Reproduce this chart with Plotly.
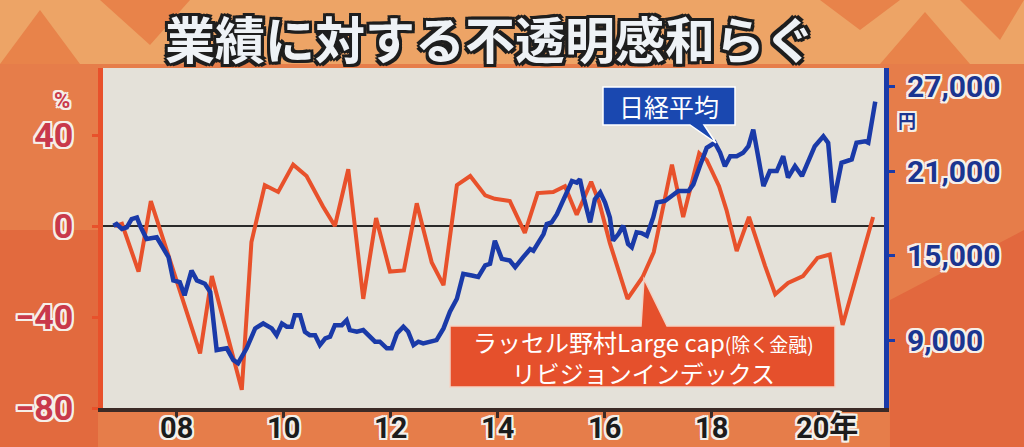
import plotly.graph_objects as go

W, H = 1024, 447
ML, MR, MT, MB = 103, 140, 68, 39

# ---- data ----
nikkei_t = [2006.83, 2006.89, 2006.99, 2007.08, 2007.17, 2007.27, 2007.33, 2007.45, 2007.64, 2007.76,
            2007.86, 2007.95, 2008.07, 2008.16, 2008.29, 2008.39, 2008.54, 2008.64, 2008.76, 2008.95,
            2009.07, 2009.16, 2009.32, 2009.48, 2009.63, 2009.79, 2009.88, 2009.98, 2010.07, 2010.16,
            2010.22, 2010.32, 2010.41, 2010.50, 2010.60, 2010.69, 2010.79, 2010.88, 2010.97, 2011.10,
            2011.19, 2011.25, 2011.38, 2011.50, 2011.59, 2011.72, 2011.81, 2011.94, 2012.03, 2012.13,
            2012.25, 2012.34, 2012.44, 2012.53, 2012.62, 2012.75, 2012.87, 2013.00, 2013.12, 2013.25,
            2013.37, 2013.53, 2013.65, 2013.78, 2013.87, 2013.96, 2014.09, 2014.24, 2014.34, 2014.49,
            2014.62, 2014.68, 2014.80, 2014.87, 2014.93, 2015.02, 2015.12, 2015.24, 2015.40, 2015.49,
            2015.55, 2015.63, 2015.74, 2015.83, 2015.93, 2016.02, 2016.11, 2016.17, 2016.27, 2016.36,
            2016.45, 2016.52, 2016.61, 2016.70, 2016.80, 2016.92, 2016.99, 2017.14, 2017.27, 2017.39,
            2017.58, 2017.67, 2017.79, 2017.92, 2018.07, 2018.17, 2018.26, 2018.36, 2018.48, 2018.60,
            2018.70, 2018.79, 2018.88, 2018.98, 2019.10, 2019.23, 2019.35, 2019.44, 2019.57, 2019.70,
            2019.82, 2019.94, 2020.10, 2020.19, 2020.29, 2020.44, 2020.63, 2020.72, 2020.88, 2020.94,
            2021.07]
nikkei_v = [17140, 17260, 16910, 17030, 17610, 17730, 17140, 16200, 16320, 15490,
            14910, 13260, 13140, 12200, 13960, 13260, 13020, 12440, 8315, 8435,
            7610, 7380, 8435, 9850, 10200, 9850, 9370, 10200, 9970, 9970,
            10790, 10790, 9610, 9370, 9370, 8670, 9140, 9260, 10080, 10080,
            10430, 9730, 9610, 9730, 9370, 8910, 8910, 8435, 8435, 9490,
            9970, 9610, 8670, 8910, 8790, 8910, 9020, 9850, 11030, 11960,
            13730, 13610, 13500, 14320, 14440, 16080, 14790, 14670, 14200, 14910,
            15490, 15370, 16080, 16550, 17260, 17380, 17960, 19020, 20320, 20200,
            20440, 19020, 17380, 19020, 19500, 18790, 17730, 16080, 16550, 17140,
            15850, 15610, 16670, 16620, 16430, 17730, 18790, 18900, 19260, 19610,
            19610, 20080, 21370, 22670, 23030, 22320, 21370, 22080, 22080, 22320,
            22790, 23970, 22080, 19960, 21020, 21020, 22080, 20560, 21370, 20670,
            21730, 22790, 23490, 23030, 18790, 21610, 21850, 23030, 23140, 23030,
            25960]

rev_t = [2006.86, 2006.99, 2007.30, 2007.53, 2008.45, 2008.67, 2009.23, 2009.41, 2009.66, 2009.91,
         2010.19, 2010.44, 2010.75, 2010.97, 2011.22, 2011.50, 2011.74, 2012.00, 2012.26, 2012.50,
         2012.78, 2013.00, 2013.25, 2013.50, 2013.78, 2013.96, 2014.24, 2014.52, 2014.76, 2015.05,
         2015.27, 2015.49, 2015.76, 2015.91, 2016.11, 2016.44, 2016.72, 2016.93, 2017.27, 2017.48,
         2017.78, 2017.92, 2018.15, 2018.29, 2018.48, 2018.71, 2019.01, 2019.20, 2019.44, 2019.72,
         2019.99, 2020.22, 2020.46, 2021.03]
rev_v = [0, 1, -20, 11, -56, -22, -72, -7, 18, 15,
         27, 22, 8.5, 0, 25, -32, 3.5, -20, -19.5, 10,
         -16, -26, 18, 22, 13.5, 12, 11, -3, 14.5, 15,
         17.5, 5, 19.5, 10.5, -7.5, -32, -22.5, -11.5, 27, 4,
         32, 29, 17.5, 7, -11, 4, -17.5, -30, -25, -22,
         -14, -12.5, -43.5, 4]

pct_ticks = [-80, -40, 0, 40]
pct_labels = ["−80", "−40", "0", "40"]
yen_ticks = [9000, 15000, 21000, 27000]
yen_labels = ["9,000", "15,000", "21,000", "27,000"]
year_ticks = [2008, 2010, 2012, 2014, 2016, 2018, 2020]
year_labels = ["08", "10", "12", "14", "16", "18", "20年"]

title_text = "業績に対する不透明感和らぐ"
nikkei_label = "日経平均"
rev_label = ("ラッセル野村Large cap<span style='font-size:19px'>(除く金融)</span>"
             "<br>リビジョンインデックス")

# ---- styling helpers ----
PW = W - ML - MR
PH = H - MT - MB


def px(x):
    return (x - ML) / PW


def py(y):
    return (H - MB - y) / PH


def outline(color, w):
    parts = []
    for dx in (-w, 0, w):
        for dy in (-w, 0, w):
            if dx or dy:
                parts.append(f"{dx}px {dy}px 0px {color}")
    return ", ".join(parts)


def path(points):
    s = "M " + " L ".join(f"{px(a):.5f},{py(b):.5f}" for a, b in points) + " Z"
    return s


RED = "#e8512b"
BLUE = "#1a3aa8"
NUM_FONT = "Roboto, Noto Sans CJK JP, sans-serif"
JP_FONT = "Noto Sans CJK JP, sans-serif"

fig = go.Figure()
fig.add_trace(go.Scatter(x=rev_t, y=rev_v, mode="lines", yaxis="y",
                         line=dict(color=RED, width=4), showlegend=False, hoverinfo="skip"))
fig.add_trace(go.Scatter(x=nikkei_t, y=nikkei_v, mode="lines", yaxis="y2",
                         line=dict(color=BLUE, width=4.5), showlegend=False, hoverinfo="skip"))

px_per_year = 53.5
x0 = 2008 - (176 - ML) / px_per_year
x1 = x0 + PW / px_per_year

fig.update_layout(
    width=W, height=H,
    autosize=False,
    margin=dict(l=ML, r=MR, t=MT, b=MB, pad=0, autoexpand=False),
    paper_bgcolor="#e67d4a",
    plot_bgcolor="#e4e1d9",
    showlegend=False,
    xaxis=dict(range=[x0, x1], tickvals=year_ticks, ticktext=year_labels, automargin=False,
               showticklabels=False,
               showgrid=False, zeroline=False, showline=True, linecolor="#3b2a26", linewidth=4,
               ticks="outside", ticklen=6, tickwidth=3, tickcolor="#3b2a26"),
    yaxis=dict(range=[-80, 69.5], tickvals=pct_ticks, ticktext=pct_labels, automargin=False,
               showgrid=False, zeroline=True, zerolinecolor="#2a2a2a", zerolinewidth=1.5,
               showline=True, linecolor=RED, linewidth=5,
               ticks="outside", ticklen=6, tickwidth=3, tickcolor=RED,
               ticklabelstandoff=12,
               tickfont=dict(family=NUM_FONT, size=34, color="#c9394a", weight="bold",
                             shadow=outline("#f6efe8", 2))),
    yaxis2=dict(range=[4200, 28340], tickvals=yen_ticks, ticktext=yen_labels, automargin=False,
                overlaying="y", side="right",
                showgrid=False, zeroline=False, showline=True, linecolor=BLUE, linewidth=5,
                ticks="outside", ticklen=6, tickwidth=3, tickcolor=BLUE,
                ticklabelstandoff=6,
                tickfont=dict(family=NUM_FONT, size=30, color="#1b3590", weight="bold",
                              shadow=outline("#f6efe8", 2))),
)

shapes = []
# top title band and decorative triangles
shapes.append(dict(type="rect", xref="paper", yref="paper", x0=px(0), x1=px(W), y0=py(64), y1=py(0),
                   fillcolor="#eda466", line=dict(width=0), layer="below"))
tri_color = "#e8834a"
for pts in ([(0, 64), (40, 10), (80, 64)], [(100, 0), (150, 45), (190, 0)], [(880, 64), (925, 12), (970, 64)],
            [(960, 0), (1000, 40), (1024, 0)], [(190, 64), (230, 30), (270, 64)], [(820, 0), (860, 30), (900, 0)]):
    shapes.append(dict(type="path", xref="paper", yref="paper", path=path(pts),
                       fillcolor=tri_color, line=dict(width=0), layer="below"))
# warmer patches in the margins
shapes.append(dict(type="path", xref="paper", yref="paper",
                   path=path([(0, 230), (98, 230), (98, 447), (0, 447)]),
                   fillcolor="#e26a3e", line=dict(width=0), layer="below"))
shapes.append(dict(type="path", xref="paper", yref="paper",
                   path=path([(890, 300), (1024, 230), (1024, 447), (890, 447)]),
                   fillcolor="#e2683e", line=dict(width=0), layer="below"))
# callouts
shapes.append(dict(type="path", xref="paper", yref="paper",
                   path=path([(450, 326), (641, 326), (644, 279), (667, 326), (835, 326), (835, 387), (450, 387)]),
                   fillcolor="#e5502c", line=dict(color="#f3d2c4", width=1.5), layer="above"))
shapes.append(dict(type="path", xref="paper", yref="paper",
                   path=path([(603, 87), (735, 87), (735, 125), (704, 125), (716, 143), (690, 125), (603, 125)]),
                   fillcolor="#1a48b0", line=dict(color="#ffffff", width=1.5), layer="above"))
fig.update_layout(shapes=shapes)

ann = []
ann.append(dict(xref="paper", yref="paper", x=px(490), y=py(37), text=title_text, showarrow=False,
                xanchor="center", yanchor="middle",
                font=dict(family=JP_FONT, size=50, color="#eef2f6", weight="bold",
                          shadow=outline("#1e1e1e", 3))))
ann.append(dict(xref="paper", yref="paper", x=px(669), y=py(106), text=nikkei_label, showarrow=False,
                xanchor="center", yanchor="middle",
                font=dict(family=JP_FONT, size=25, color="#ffffff")))
ann.append(dict(xref="paper", yref="paper", x=px(643), y=py(357), text=rev_label, showarrow=False,
                xanchor="center", yanchor="middle", align="center",
                font=dict(family=JP_FONT, size=24, color="#ffffff")))
ann.append(dict(xref="paper", yref="paper", x=px(62), y=py(100), text="%", showarrow=False,
                xanchor="center", yanchor="middle",
                font=dict(family=NUM_FONT, size=22, color="#c9394a", weight="bold",
                          shadow=outline("#f6efe8", 2))))
ann.append(dict(xref="paper", yref="paper", x=px(907), y=py(120), text="円", showarrow=False,
                xanchor="center", yanchor="middle",
                font=dict(family=JP_FONT, size=18, color="#1b3590", weight="bold",
                          shadow=outline("#f6efe8", 2))))
# x-axis year labels, placed at the tick positions
for tv, tt in zip(year_ticks, year_labels):
    ann.append(dict(xref="x", yref="paper", x=tv, y=py(428), text=tt, showarrow=False,
                    xanchor="center", yanchor="middle",
                    xshift=(9 if tt.endswith("年") else 0),
                    font=dict(family=NUM_FONT, size=29, color="#1c1c1c", weight="bold",
                              shadow=outline("#f4f0ea", 2))))
fig.update_layout(annotations=ann)

fig.write_html("out.html",
               config={"displayModeBar": False, "staticPlot": True},
               post_script="document.body.style.margin='0';document.body.style.overflow='hidden';")
